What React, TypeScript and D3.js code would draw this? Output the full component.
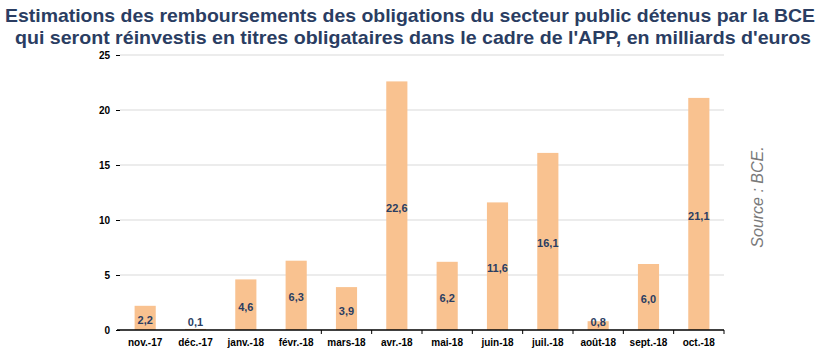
import { useEffect, useRef } from "react";
import * as d3 from "d3";

// Données (milliards d'euros)
const mois = [
  "nov.-17", "déc.-17", "janv.-18", "févr.-18", "mars-18", "avr.-18",
  "mai-18", "juin-18", "juil.-18", "août-18", "sept.-18", "oct.-18",
];
const remboursements = [2.2, 0.1, 4.6, 6.3, 3.9, 22.6, 6.2, 11.6, 16.1, 0.8, 6.0, 21.1];
const graduations = [0, 5, 10, 15, 20, 25];
const titre = [
  "Estimations des remboursements des obligations du secteur public détenus par la BCE",
  "qui seront réinvestis en titres obligataires dans le cadre de l'APP, en milliards d'euros",
];

const W = 820;
const H = 351;

const App = () => {
  const ref = useRef<SVGSVGElement | null>(null);

  useEffect(() => {
    if (!ref.current) return;
    const svg = d3.select(ref.current);
    svg.selectAll("*").remove();

    const gauche = 120;
    const droite = 724;
    const bas = 330;
    const haut = 55;

    const x = d3.scaleBand().domain(mois).range([gauche, droite]).paddingInner(0.58).paddingOuter(0.29);
    const y = d3.scaleLinear().domain([0, 25]).range([bas, haut]);

    // Titre
    svg.append("g")
      .selectAll("text")
      .data(titre)
      .enter()
      .append("text")
      .attr("x", (d, i) => (i === 0 ? 410 : 413))
      .attr("y", (d, i) => (i === 0 ? 22 : 44))
      .attr("text-anchor", "middle")
      .attr("textLength", (d, i) => (i === 0 ? 810 : 796))
      .attr("lengthAdjust", "spacingAndGlyphs")
      .style("font-family", "'Liberation Sans', Arial, sans-serif")
      .style("font-size", "19px")
      .style("font-weight", "700")
      .style("fill", "#2a3d62")
      .text((d) => d);

    // Grille horizontale
    svg.append("g")
      .selectAll("line")
      .data(graduations.filter((t) => t > 0))
      .enter()
      .append("line")
      .attr("x1", gauche)
      .attr("x2", droite)
      .attr("y1", (d) => y(d))
      .attr("y2", (d) => y(d))
      .attr("stroke", "#d9d9d9")
      .attr("stroke-width", 1);

    // Axe Y (sans ligne)
    const axeY = svg.append("g")
      .attr("transform", `translate(${gauche},0)`)
      .call(d3.axisLeft(y).tickValues(graduations).tickSize(4).tickPadding(6).tickFormat((d) => `${d}`));
    axeY.select(".domain").remove();
    axeY.selectAll("line").attr("stroke", "#000");
    axeY.selectAll("text")
      .style("font-family", "'Liberation Sans', Arial, sans-serif")
      .style("font-size", "10px")
      .style("font-weight", "700")
      .style("fill", "#000");

    // Barres
    svg.append("g")
      .selectAll("rect")
      .data(remboursements)
      .enter()
      .append("rect")
      .attr("x", (d, i) => x(mois[i])!)
      .attr("width", x.bandwidth())
      .attr("y", (d) => y(d))
      .attr("height", (d) => bas - y(d))
      .attr("fill", "#f9c290");

    // Valeurs
    svg.append("g")
      .selectAll("text")
      .data(remboursements)
      .enter()
      .append("text")
      .attr("x", (d, i) => x(mois[i])! + x.bandwidth() / 2)
      .attr("y", (d) => Math.min((y(d) + bas) / 2 + 2, 322) + 4)
      .attr("text-anchor", "middle")
      .style("font-family", "'Liberation Sans', Arial, sans-serif")
      .style("font-size", "11px")
      .style("font-weight", "700")
      .style("fill", "#2a3d62")
      .text((d) => d3.format(".1f")(d).replace(".", ","));

    // Axe X
    svg.append("line")
      .attr("x1", gauche - 3)
      .attr("x2", droite)
      .attr("y1", bas)
      .attr("y2", bas)
      .attr("stroke", "#000")
      .attr("stroke-width", 1.5);

    const pas = x.step();
    svg.append("g")
      .selectAll("line")
      .data(mois.slice(4))
      .enter()
      .append("line")
      .attr("x1", (d) => x(d)! - x.bandwidth() / 2 - (pas - x.bandwidth()) / 2 + x.bandwidth() / 2)
      .attr("x2", (d) => x(d)! - (pas - x.bandwidth()) / 2)
      .attr("y1", bas)
      .attr("y2", bas + 4)
      .attr("stroke", "#000")
      .attr("stroke-width", 1);
    svg.append("line")
      .attr("x1", droite)
      .attr("x2", droite)
      .attr("y1", bas)
      .attr("y2", bas + 4)
      .attr("stroke", "#000");

    svg.append("g")
      .selectAll("text")
      .data(mois)
      .enter()
      .append("text")
      .attr("x", (d) => x(d)! + x.bandwidth() / 2)
      .attr("y", bas + 16)
      .attr("text-anchor", "middle")
      .style("font-family", "'Liberation Sans', Arial, sans-serif")
      .style("font-size", "10px")
      .style("font-weight", "700")
      .style("fill", "#000")
      .text((d) => d);

    // Source
    svg.append("text")
      .attr("transform", "translate(763,197) rotate(-90)")
      .attr("text-anchor", "middle")
      .style("font-family", "'Liberation Sans', Arial, sans-serif")
      .style("font-size", "16px")
      .style("font-style", "italic")
      .style("fill", "#7a7a7a")
      .text("Source : BCE.");
  }, []);

  return (
    <svg
      ref={ref}
      width={W}
      height={H}
      style={{ position: "absolute", left: 0, top: 0, background: "#fff" }}
    />
  );
};

export default App;
